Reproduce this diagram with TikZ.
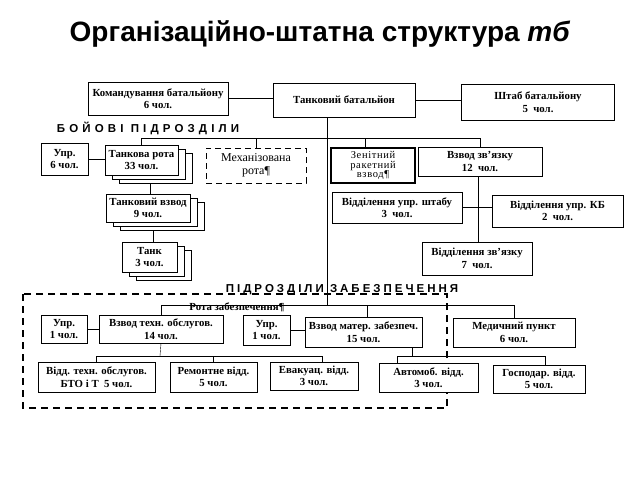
\documentclass[tikz,border=0pt]{standalone}
\usepackage{fontspec}
\setmainfont{Liberation Serif}
\newfontfamily\titlefont{Liberation Sans}
\usetikzlibrary{shadows, backgrounds}

\tikzset{
    unit/.style={draw, fill=white, inner sep=1pt, align=center,
        font=\bfseries\fontsize{10.8}{12.5}\selectfont},
    sz/.style 2 args={minimum width=#1pt, minimum height=#2pt},
    stack/.style={copy shadow={shadow xshift=14pt, shadow yshift=-8pt},
        copy shadow={shadow xshift=7pt, shadow yshift=-4pt}},
    caption/.style={font=\titlefont\bfseries\fontsize{11.5}{13}\selectfont\addfontfeatures{LetterSpace=#1}, anchor=base},
    caption/.default=36
}

\begin{document}
\begin{tikzpicture}[x=1pt, y=-1pt]
    \useasboundingbox (0,0) rectangle (640,480);

    % Title
    \node[anchor=base] (title) at (320,41) {\titlefont\bfseries\fontsize{28}{30}\selectfont
        Організаційно-штатна структура \textit{тб}};

    % Battalion level
    \node[unit, sz={140}{33}] (kombat) at (158,98.5) {Командування батальйону\\6 чол.};
    \node[unit, sz={142}{34}] (tb) at (344,100) {Танковий батальйон};
    \node[unit, sz={153}{36}] (shtab) at (538,102) {Штаб батальйону\\5~ чол.};
    \draw (kombat.east) -- (kombat.east -| tb.west);
    \draw (tb.east) -- (tb.east -| shtab.west);

    % Combat units
    \node[caption] (boi) at (148,132) {БОЙОВІ ПІДРОЗДІЛИ};
    \coordinate (cbus) at (327,138);
    \coordinate (sbus) at (327,305);

    \node[unit, sz={47}{32}] (upr1) at (64.5,159) {Упр.\\6 чол.};
    \node[unit, sz={73}{30}, stack] (trota) at (141.5,160) {Танкова рота\\33 чол.};
    \node[unit, sz={84}{28}, stack] (tvzvod) at (148,208) {Танковий взвод\\9 чол.};
    \node[unit, sz={55}{30}, stack] (tank) at (149.5,257) {Танк\\3 чол.};
    \node[unit, sz={100}{35}, dashed, line width=1pt, dash pattern=on 6pt off 4pt,
        font=\fontsize{12}{13}\selectfont] (mrota) at (256,165.5) {Механізована\\рота¶};
    \node[unit, sz={84}{35}, line width=1.5pt,
        font=\fontsize{10.5}{9.5}\selectfont\addfontfeatures{LetterSpace=6}] (zrv) at (373,165.5)
        {Зенітний\\ракетний\\взвод¶};
    \node[unit, sz={124}{29}] (vzv) at (480,161.5) {Взвод зв’язку\\12~ чол.};
    \node[unit, sz={130}{31}] (vups) at (397,207.5) {Відділення упр. штабу\\3~ чол.};
    \node[unit, sz={131}{32}] (vukb) at (557.5,211) {Відділення упр. КБ\\2~ чол.};
    \node[unit, sz={110}{33}] (vzz) at (477,258.5) {Відділення зв’язку\\7~ чол.};

    % Supply units
    \node[caption=26] (zab) at (342,292) {ПІДРОЗДІЛИ ЗАБЕЗПЕЧЕННЯ};
    \node[font=\bfseries\fontsize{10.8}{12}\selectfont, anchor=base] (rz) at (237,310) {Рота забезпечення¶};
    \draw[dashed, line width=1.1pt, dash pattern=on 7pt off 5pt] (23,294) rectangle (447,408);

    \node[unit, sz={46}{28}] (upr2) at (64,329) {Упр.\\1 чол.};
    \node[unit, sz={124}{28}] (vto) at (161,329) {Взвод техн. обслугов.\\14 чол.};
    \node[unit, sz={47}{30}] (upr3) at (266.5,330) {Упр.\\1 чол.};
    \node[unit, sz={117}{30}] (vmz) at (363.5,332) {Взвод матер. забезпеч.\\15 чол.};
    \node[unit, sz={122}{29}] (medp) at (514,332.5) {Медичний пункт\\6 чол.};
    \node[unit, sz={117}{30}] (vtob) at (96.5,377) {Відд. техн. обслугов.\\БТО і Т~ 5 чол.};
    \node[unit, sz={87}{30}] (remv) at (213.5,377) {Ремонтне відд.\\5 чол.};
    \node[unit, sz={88}{28}] (evak) at (314,376) {Евакуац. відд.\\3 чол.};
    \node[unit, sz={99}{29}] (avto) at (428.5,377.5) {Автомоб. відд.\\3 чол.};
    \node[unit, sz={92}{28}] (gosp) at (539,379) {Господар. відд.\\5 чол.};
    \coordinate (tbus) at (160,356);
    \coordinate (mbusl) at (397,356);
    \coordinate (mbusr) at (545,356);

    % Connectors
    \begin{pgfonlayer}{background}
        \draw (tb.south -| cbus) -- (sbus);
        \draw (trota.north |- cbus) -- (vzv.north |- cbus);
        \foreach \n in {trota, mrota, vzv}
            \draw (\n.north |- cbus) -- (\n.north);
        \draw ([xshift=-8pt]zrv.north |- cbus) -- ([xshift=-8pt]zrv.north);
        \draw (upr1.east) -- (upr1.east -| trota.west);
        \draw ([xshift=2pt]tvzvod.north) -- ([xshift=2pt]tvzvod.north |- trota.south);
        \draw ([xshift=4pt]tank.north) -- ([xshift=4pt]tank.north |- tvzvod.south);
        \draw ([xshift=-2pt]vzv.south) -- ([xshift=-2pt]vzv.south |- vzz.north);
        \draw (vups.east) -- (vups.east -| vukb.west);

        \draw (vto.north |- sbus) -- (medp.north |- sbus);
        \foreach \n in {vto, medp}
            \draw (\n.north |- sbus) -- (\n.north);
        \draw ([xshift=4pt]vmz.north |- sbus) -- ([xshift=4pt]vmz.north);
        \draw (upr2.east) -- (upr2.east -| vto.west);
        \draw (upr3.east) -- (upr3.east -| vmz.west);
        \draw (vto.south) -- (tbus);
        \draw (vtob.north |- tbus) -- ([xshift=8pt]evak.north |- tbus);
        \foreach \n in {vtob, remv}
            \draw (\n.north |- tbus) -- (\n.north);
        \draw ([xshift=8pt]evak.north |- tbus) -- ([xshift=8pt]evak.north);
        \draw (vmz.south -| 412,0) -- (412,356);
        \draw (mbusl) -- (mbusr);
        \draw (mbusl) -- (mbusl |- avto.north);
        \draw (mbusr) -- (mbusr |- gosp.north);
    \end{pgfonlayer}
\end{tikzpicture}
\end{document}
